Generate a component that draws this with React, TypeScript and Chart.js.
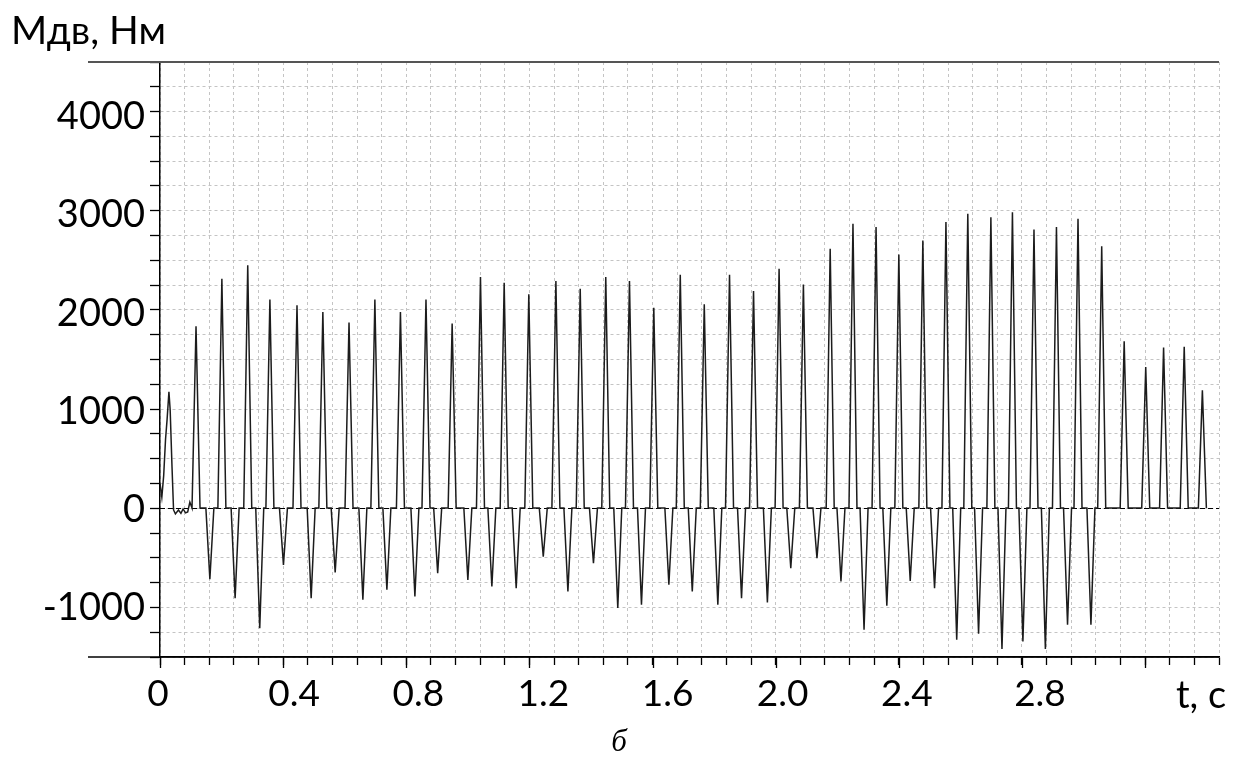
import React, { useEffect, useRef } from 'react';
import { Chart, registerables } from 'chart.js';

Chart.register(...registerables);

// ---- data ----
// opening segment (t, c / Нм)
const leadT = [0, 0.006, 0.012, 0.018, 0.023, 0.029, 0.033, 0.039, 0.044, 0.05, 0.06, 0.068, 0.075, 0.083, 0.09, 0.097];
const leadV = [250, 110, 330, 700, 900, 1182, 1000, 420, -20, -60, -20, -55, -10, -50, -40, 60];

// positive torque peaks
const peakT = [0.117, 0.201, 0.285, 0.357, 0.445, 0.529, 0.614, 0.698, 0.781, 0.864, 0.949, 1.041, 1.118, 1.198, 1.286, 1.365, 1.448, 1.525, 1.604, 1.69, 1.768, 1.85, 1.928, 2.011, 2.09, 2.177, 2.251, 2.326, 2.4, 2.478, 2.553, 2.624, 2.699, 2.769, 2.839, 2.912, 2.982, 3.059, 3.132, 3.202, 3.26, 3.327, 3.386];
const peakV = [1850, 2334, 2470, 2121, 2063, 1995, 1887, 2121, 1995, 2121, 1877, 2351, 2293, 2175, 2310, 2232, 2351, 2310, 2039, 2375, 2073, 2375, 2208, 2436, 2276, 2639, 2893, 2859, 2581, 2724, 2910, 2995, 2960, 3011, 2835, 2859, 2944, 2663, 1697, 1436, 1633, 1640, 1199];

// negative torque troughs
const troughT = [0.162, 0.244, 0.324, 0.401, 0.491, 0.569, 0.659, 0.737, 0.828, 0.902, 1.0, 1.078, 1.157, 1.245, 1.325, 1.408, 1.487, 1.564, 1.653, 1.729, 1.812, 1.889, 1.973, 2.049, 2.134, 2.212, 2.287, 2.361, 2.437, 2.516, 2.588, 2.659, 2.735, 2.803, 2.876, 2.948, 3.024];
const troughV = [-725, -918, -1223, -579, -918, -657, -935, -833, -901, -664, -732, -800, -816, -495, -850, -562, -1019, -986, -782, -850, -986, -918, -962, -613, -511, -749, -1240, -996, -742, -816, -1341, -1280, -1436, -1359, -1436, -1189, -1189];

// half width of a pulse base (s)
const PULSE_HALF = 0.013;

// axis ticks
const xMajor = [0, 0.4, 0.8, 1.2, 1.6, 2.0, 2.4, 2.8, 3.2];
const xLabelValues = [0, 0.4, 0.8, 1.2, 1.6, 2.0, 2.4, 2.8];
const xLabelTexts = ['0', '0.4', '0.8', '1.2', '1.6', '2.0', '2.4', '2.8'];
const yLabelValues = [-1000, 0, 1000, 2000, 3000, 4000];

const X_MIN = 0;
const X_MAX = 3.44;
const X_STEP = 0.08;
const Y_MIN = -1517;
const Y_MAX = 4540;
const Y_STEP = 250;

const Y_TITLE = 'Мдв, Нм';
const X_TITLE = 't, c';
const CAPTION = 'б';

// layout: horizontal shift of each x label relative to its tick (px)
const X_LABEL_SHIFT = [-2, 11, 12, 14, 15, 7, 8, 18];

function buildPoints() {
  const events: { t: number; v: number }[] = [];
  peakT.forEach((t, i) => events.push({ t, v: peakV[i] }));
  troughT.forEach((t, i) => events.push({ t, v: troughV[i] }));
  events.sort((a, b) => a.t - b.t);
  const pts = leadT.map((t, i) => ({ x: t, y: leadV[i] }));
  for (const e of events) {
    pts.push({ x: e.t - PULSE_HALF, y: 0 });
    pts.push({ x: e.t, y: e.v });
    pts.push({ x: e.t + PULSE_HALF, y: 0 });
  }
  return pts;
}

const FONT = 'Lato, "Open Sans", sans-serif';

const decoPlugin = {
  id: 'deco',
  beforeDatasetsDraw(chart: any) {
    const { ctx, chartArea, scales } = chart;
    const y0 = Math.round(scales.y.getPixelForValue(0)) + 0.5;
    ctx.save();
    ctx.setLineDash([5, 3]);
    ctx.strokeStyle = '#000';
    ctx.lineWidth = 1.2;
    ctx.beginPath();
    ctx.moveTo(chartArea.left, y0);
    ctx.lineTo(chartArea.right, y0);
    ctx.stroke();
    ctx.restore();
  },
  afterDraw(chart: any) {
    const { ctx, chartArea, scales } = chart;
    ctx.save();
    // frame lines
    ctx.strokeStyle = '#555';
    ctx.lineWidth = 2;
    ctx.beginPath();
    ctx.moveTo(88, chartArea.top);
    ctx.lineTo(chartArea.right, chartArea.top);
    ctx.stroke();
    ctx.strokeStyle = '#000';
    ctx.lineWidth = 1.5;
    ctx.beginPath();
    ctx.moveTo(88, chartArea.bottom);
    ctx.lineTo(chartArea.right, chartArea.bottom);
    ctx.stroke();
    // longer major ticks on x
    ctx.lineWidth = 1.3;
    for (const t of xMajor) {
      const x = Math.round(scales.x.getPixelForValue(t)) + 0.5;
      ctx.beginPath();
      ctx.moveTo(x, chartArea.bottom);
      ctx.lineTo(x, chartArea.bottom + 11);
      ctx.stroke();
    }
    // tick labels
    ctx.fillStyle = '#000';
    ctx.font = `37px ${FONT}`;
    ctx.textBaseline = 'alphabetic';
    ctx.textAlign = 'center';
    xLabelValues.forEach((v, i) => {
      const x = scales.x.getPixelForValue(v) + X_LABEL_SHIFT[i];
      ctx.fillText(xLabelTexts[i], x, chartArea.bottom + 49);
    });
    ctx.textAlign = 'right';
    ctx.font = `38px ${FONT}`;
    yLabelValues.forEach((v) => {
      const y = scales.y.getPixelForValue(v);
      ctx.fillText(String(v), 145, y + 14);
    });
    // titles
    ctx.textAlign = 'left';
    ctx.font = `39px ${FONT}`;
    ctx.fillText(Y_TITLE, 11, 44);
    ctx.font = `38px ${FONT}`;
    ctx.fillText(X_TITLE, 1176, 708);
    ctx.font = 'italic 31px "Liberation Serif", "DejaVu Serif", serif';
    ctx.textAlign = 'center';
    ctx.fillText(CAPTION, 619, 751);
    ctx.restore();
  },
};

export default function App() {
  const ref = useRef<HTMLCanvasElement | null>(null);
  useEffect(() => {
    if (!ref.current) return;
    const chart = new Chart(ref.current, {
      type: 'line',
      data: {
        datasets: [
          {
            data: buildPoints(),
            borderColor: '#1c1c1c',
            borderWidth: 1.5,
            pointRadius: 0,
            tension: 0,
            fill: false,
          },
        ],
      },
      options: {
        animation: false,
        responsive: false,
        maintainAspectRatio: false,
        devicePixelRatio: 1,
        layout: { padding: { top: 62, right: 14, left: 0, bottom: 0 } },
        plugins: { legend: { display: false }, tooltip: { enabled: false }, title: { display: false } },
        scales: {
          x: {
            type: 'linear',
            min: X_MIN,
            max: X_MAX,
            afterFit: (s: any) => {
              s.height = 107;
            },
            grid: {
              color: '#c4c4c4',
              lineWidth: 1,
              tickColor: '#000',
              tickLength: 8,
              tickWidth: 1.3,
            },
            border: { color: '#000', width: 1.5, dash: [3, 3] },
            ticks: {
              stepSize: X_STEP,
              autoSkip: false,
              maxRotation: 0,
              includeBounds: false,
              display: false,
            },
          },
          y: {
            type: 'linear',
            min: Y_MIN,
            max: Y_MAX,
            afterFit: (s: any) => {
              s.width = 160;
            },
            grid: {
              color: '#c4c4c4',
              lineWidth: 1,
              tickColor: '#000',
              tickLength: 10,
              tickWidth: 1.3,
            },
            border: { color: '#000', width: 1.5, dash: [3, 3] },
            ticks: {
              stepSize: Y_STEP,
              autoSkip: false,
              includeBounds: false,
              display: false,
            },
          },
        },
      },
      plugins: [decoPlugin],
    });
    return () => chart.destroy();
  }, []);
  return (
    <div style={{ position: 'absolute', left: 0, top: 0, width: 1233, height: 764, background: '#fff' }}>
      <canvas ref={ref} width={1233} height={764} style={{ width: 1233, height: 764 }} />
    </div>
  );
}
